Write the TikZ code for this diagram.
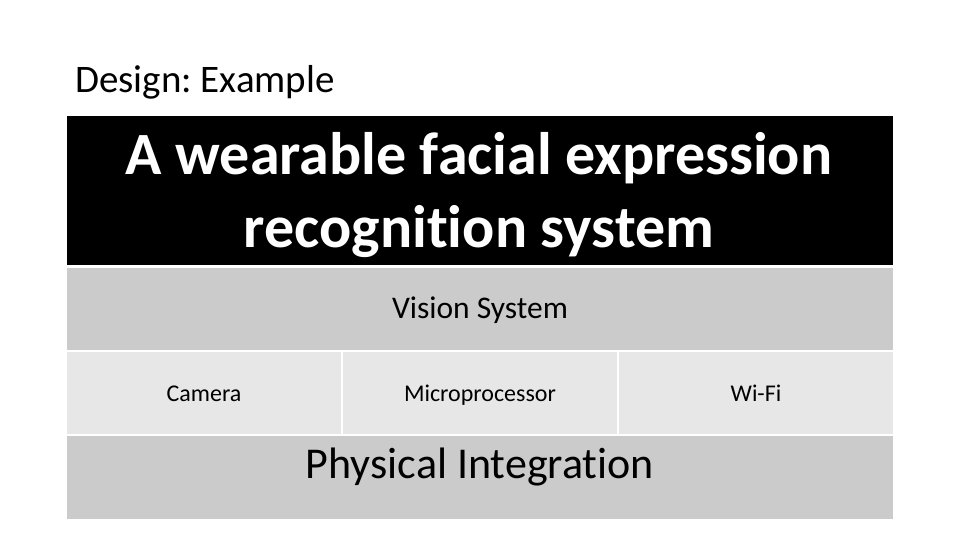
\documentclass[tikz,border=0pt]{standalone}
\usepackage{fontspec}
\setmainfont{Carlito}[Ligatures=NoCommon]
\frenchspacing
\definecolor{rowgray}{HTML}{CBCBCB}
\definecolor{cellgray}{HTML}{E7E7E7}
\begin{document}
\begin{tikzpicture}[x=1pt,y=-1pt,
  box/.style={draw=none,inner sep=0pt,outer sep=0pt,anchor=north west},
  lbl/.style={inner sep=0pt,text=black,anchor=base}]
\useasboundingbox (0,0) rectangle (960,540);
\fill[white] (0,0) rectangle (960,540);
\node[lbl,anchor=base west,font=\fontsize{39}{47}\selectfont] (title) at (75,93) {Design: Example};
% boxes
\node[box,fill=black,minimum width=826pt,minimum height=149pt] (head) at (67,116) {};
\node[box,fill=rowgray,minimum width=826pt,minimum height=82pt] (vision) at (67,268) {};
\node[box,fill=cellgray,minimum width=274pt,minimum height=82pt] (cam) at (67,352) {};
\node[box,fill=cellgray,minimum width=274pt,minimum height=82pt] (micro) at (343,352) {};
\node[box,fill=cellgray,minimum width=274pt,minimum height=82pt] (wifi) at (619,352) {};
\node[box,fill=rowgray,minimum width=826pt,minimum height=83pt] (phys) at (67,436) {};
% labels
\node[lbl,text=white,font=\bfseries\fontsize{60}{72}\selectfont] (headtxta) at (479,175) {A wearable facial expression};
\node[lbl,text=white,font=\bfseries\fontsize{60}{72}\selectfont] (headtxtb) at (479,247) {recognition system};
\node[lbl,font=\fontsize{31.5}{38}\selectfont] (visiontxt) at (480,318) {Vision System};
\node[lbl,font=\fontsize{24}{29}\selectfont] (camtxt) at (204,401) {Camera};
\node[lbl,font=\fontsize{24}{29}\selectfont] (microtxt) at (480,401) {Microprocessor};
\node[lbl,font=\fontsize{24}{29}\selectfont] (wifitxt) at (756,401) {Wi-Fi};
\node[lbl,font=\fontsize{44}{53}\selectfont] (phystxt) at (480,478) {Physical Integration};
\end{tikzpicture}
\end{document}
